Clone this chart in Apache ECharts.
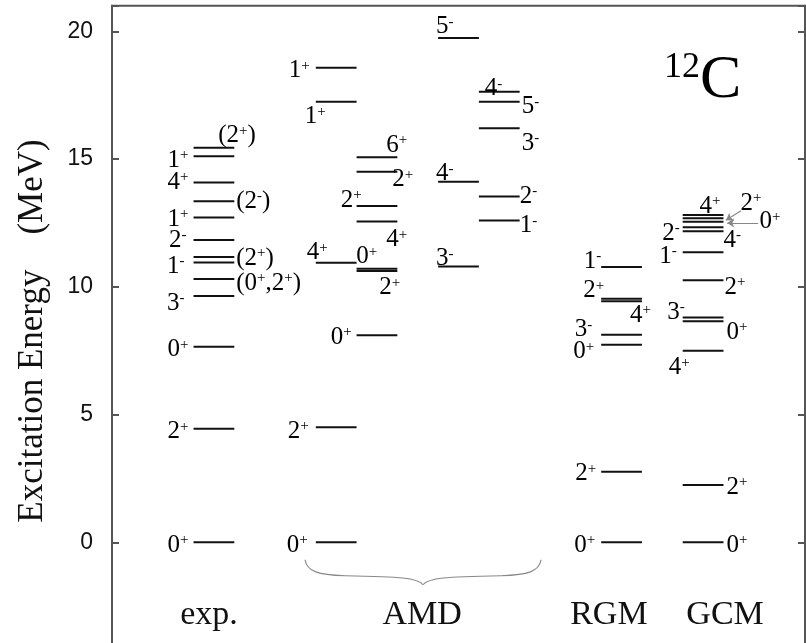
<!DOCTYPE html>
<html lang="en">
<head>
<meta charset="UTF-8" />
<title>12C 励起スペクトル</title>
<script src="https://cdn.jsdelivr.net/npm/echarts@6/dist/echarts.min.js"></script>
<style>
  html, body { margin: 0; padding: 0; background: #fff; overflow: hidden; }
  /* taller than the window so the empty bottom of the frame falls off-screen */
  #main { width: 806px; height: 670px; }
</style>
</head>
<body>
<div id="main"></div>
<script type="text/javascript">
  // excitation energies (MeV) and spin-parity for each column
  var expE = [0, 4.44, 7.65, 9.64, 10.3, 10.95, 11.16, 11.83, 12.71, 13.35, 14.08, 15.11, 15.44];
  var expJ = ['0+', '2+', '0+', '3-', '(0+,2+)', '1-', '(2+)', '2-', '1+', '(2-)', '4+', '1+', '(2+)'];

  var amd1E = [0, 4.5, 10.94, 17.24, 18.57];
  var amd1J = ['0+', '2+', '4+', '1+', '1+'];

  var amd2E = [8.1, 10.62, 10.7, 12.55, 13.16, 14.5, 15.07];
  var amd2J = ['0+', '2+', '0+', '4+', '2+', '2+', '6+'];

  var amd3E = [10.79, 14.11, 19.74];
  var amd3J = ['3-', '4-', '5-'];

  var amd4E = [12.59, 13.53, 16.2, 17.24, 17.63];
  var amd4J = ['1-', '2-', '3-', '5-', '4-'];

  var rgmE = [0, 2.76, 7.73, 8.12, 9.43, 9.53, 10.77];
  var rgmJ = ['0+', '2+', '0+', '3-', '4+', '2+', '1-'];

  var gcmE = [0, 2.24, 7.5, 8.65, 8.8, 10.25, 11.35, 12.17, 12.33, 12.54, 12.68, 12.81];
  var gcmJ = ['0+', '2+', '4+', '0+', '3-', '2+', '1-', '4-', '2-', '0+', '2+', '4+'];

  var colNames = ['exp.', 'AMD', 'RGM', 'GCM'];

  // label placement (layout only): [side, dx px, dy px]
  // L = text ends left of the level start, R = text starts after the level end
  var expLab = [['L', -5, 3], ['L', -5, 3], ['L', -5, 3], ['L', -9, 7], ['R', 2, 4], ['L', -9, 4],
    ['R', 2, 1], ['L', -7, 0], ['L', -5, 2], ['R', 2, 0], ['L', -5, 0], ['L', -5, 4], ['R', -16, -12]];
  var amd1Lab = [['L', -8, 3], ['L', -7, 4], ['L', 12, -10], ['L', 10, 15], ['L', -6, 3]];
  var amd2Lab = [['L', -5, 2], ['R', -18, 17], ['R', -41, -12], ['R', -11, 18], ['L', 5, -6],
    ['R', -5, 8], ['R', -11, -12]];
  var amd3Lab = [['R', -43, -8], ['R', -43, -8], ['R', -43, -11]];
  var amd4Lab = [['R', 0, 5], ['R', 0, 0], ['R', 2, 15], ['R', 2, 5], ['R', -35, -3]];
  var rgmLab = [['L', -6, 3], ['L', -5, 2], ['L', -7, 7], ['L', -9, -5], ['R', -12, 14], ['L', 3, -8], ['L', 0, -6]];
  var gcmLab = [['R', 3, 3], ['R', 3, 2], ['L', 7, 17], ['R', 3, 11], ['L', 2, -5], ['R', 1, 7], ['L', -6, 4],
    ['R', 0, 9], ['L', -3, 6], ['R', 36, 0], ['R', 17, -15], ['R', -24, -9]];

  var cols = [
    { x0: 2, E: expE, J: expJ, lab: expLab },
    { x0: 5, E: amd1E, J: amd1J, lab: amd1Lab },
    { x0: 6, E: amd2E, J: amd2J, lab: amd2Lab },
    { x0: 8, E: amd3E, J: amd3J, lab: amd3Lab },
    { x0: 9, E: amd4E, J: amd4J, lab: amd4Lab },
    { x0: 12, E: rgmE, J: rgmJ, lab: rgmLab },
    { x0: 14, E: gcmE, J: gcmJ, lab: gcmLab }
  ];
  var colNameX = [2.38, 7.61, 12.19, 15.04];

  var SERIF = "'Liberation Serif', 'Times New Roman', serif";
  var richStyle = {
    d: { fontFamily: SERIF, fontSize: 25, color: '#111', lineHeight: 25 },
    s: { fontFamily: SERIF, fontSize: 15, color: '#111', lineHeight: 15, verticalAlign: 'top' }
  };

  // '2+' -> '{d|2}{s|+}'
  function sup(j) {
    return j.replace(/[^+-]+/g, function (m) { return '{d|' + m + '}'; })
      .replace(/([+-])/g, '{s|$1}');
  }

  var levelData = [];
  cols.forEach(function (c, ci) {
    c.E.forEach(function (e, li) {
      levelData.push([c.x0, c.x0 + 1, e, ci, li]);
    });
  });

  // curly brace under the AMD columns (left half, mirrored in code)
  var braceHalf = [[4.735, -0.685], [4.784, -1.154], [5.054, -1.272], [5.716, -1.311],
    [7.066, -1.35], [7.507, -1.389], [7.63, -1.663]];

  var myChart = echarts.init(document.getElementById('main'));

  var option = {
    animation: false,
    grid: {
      left: 112, right: 1, top: 5.7, bottom: 0,
      show: true, borderColor: '#555', borderWidth: 2
    },
    xAxis: { type: 'value', min: 0, max: 17, show: false },
    yAxis: [
      {
        type: 'value', position: 'left', min: -5, max: 21, interval: 5,
        splitLine: { show: false },
        axisLine: { show: true, lineStyle: { color: '#555', width: 2 } },
        axisTick: { show: true, inside: true, length: 7, lineStyle: { color: '#555', width: 2 } },
        axisLabel: {
          margin: 19, fontSize: 23, color: '#111', fontFamily: "'Liberation Sans', Arial, sans-serif",
          formatter: function (v) { return v >= 0 && v % 5 === 0 ? String(v) : ''; }
        }
      },
      {
        type: 'value', position: 'right', min: -5, max: 21, interval: 5,
        splitLine: { show: false },
        axisLine: { show: true, lineStyle: { color: '#555', width: 2 } },
        axisTick: { show: true, inside: true, length: 7, lineStyle: { color: '#555', width: 2 } },
        axisLabel: { show: false }
      }
    ],
    graphic: [
      {
        type: 'text', x: 33, y: 331, rotation: Math.PI / 2,
        style: {
          text: 'Excitation Energy    (MeV)', fontFamily: SERIF, fontSize: 35, fill: '#111',
          align: 'center', verticalAlign: 'middle'
        }
      },
      {
        type: 'text', x: 664, y: 81,
        style: {
          text: '{a|12}{b|C}', align: 'left', verticalAlign: 'middle',
          rich: {
            a: { fontFamily: SERIF, fontSize: 36, lineHeight: 36, color: '#111', verticalAlign: 'top' },
            b: { fontFamily: SERIF, fontSize: 62, lineHeight: 62, color: '#111' }
          }
        }
      }
    ],
    series: [
      {
        type: 'custom',
        name: 'levels',
        clip: false,
        encode: { x: [0, 1], y: 2 },
        data: levelData,
        renderItem: function (params, api) {
          var c = cols[api.value(3)];
          var li = api.value(4);
          var p0 = api.coord([api.value(0), api.value(2)]);
          var p1 = api.coord([api.value(1), api.value(2)]);
          var lab = c.lab[li];
          var left = lab[0] === 'L';
          return {
            type: 'group',
            children: [
              {
                type: 'line',
                shape: { x1: p0[0], y1: p0[1], x2: p1[0], y2: p1[1] },
                style: { stroke: '#111', lineWidth: 2 }
              },
              {
                type: 'text',
                x: (left ? p0[0] : p1[0]) + lab[1],
                y: p0[1] + lab[2],
                style: {
                  text: sup(c.J[li]), rich: richStyle,
                  align: left ? 'right' : 'left', verticalAlign: 'middle'
                }
              }
            ]
          };
        }
      },
      {
        type: 'custom',
        name: 'columns',
        clip: false,
        data: colNames.map(function (n, i) { return [colNameX[i], -2.84, i]; }),
        renderItem: function (params, api) {
          var p = api.coord([api.value(0), api.value(1)]);
          return {
            type: 'text', x: p[0], y: p[1],
            style: {
              text: colNames[api.value(2)], fontFamily: SERIF, fontSize: 34, fill: '#111',
              align: 'center', verticalAlign: 'middle'
            }
          };
        }
      },
      {
        type: 'custom',
        name: 'brace',
        clip: false,
        data: [[7.63, -1.663]],
        renderItem: function (params, api) {
          var cx = api.value(0);
          var L = braceHalf.map(function (p) { return api.coord(p); });
          var R = braceHalf.map(function (p) { return api.coord([2 * cx - p[0], p[1]]); });
          function seg(a, b, c, d) {
            return {
              type: 'bezierCurve',
              shape: { x1: a[0], y1: a[1], cpx1: b[0], cpy1: b[1], cpx2: c[0], cpy2: c[1], x2: d[0], y2: d[1] },
              style: { stroke: '#888', lineWidth: 1.2, fill: null }
            };
          }
          return {
            type: 'group',
            children: [
              seg(L[0], L[1], L[2], L[3]), seg(L[3], L[4], L[5], L[6]),
              seg(R[0], R[1], R[2], R[3]), seg(R[3], R[4], R[5], R[6])
            ]
          };
        }
      },
      {
        type: 'lines',
        name: 'arrows',
        coordinateSystem: 'cartesian2d',
        symbol: ['none', 'arrow'],
        symbolSize: 7,
        lineStyle: { color: '#888', width: 1.2, opacity: 1 },
        data: [
          { coords: [[15.43, 12.97], [15.06, 12.6]] },
          { coords: [[15.85, 12.5], [15.09, 12.5]] }
        ]
      }
    ]
  };

  myChart.setOption(option);
</script>
</body>
</html>
